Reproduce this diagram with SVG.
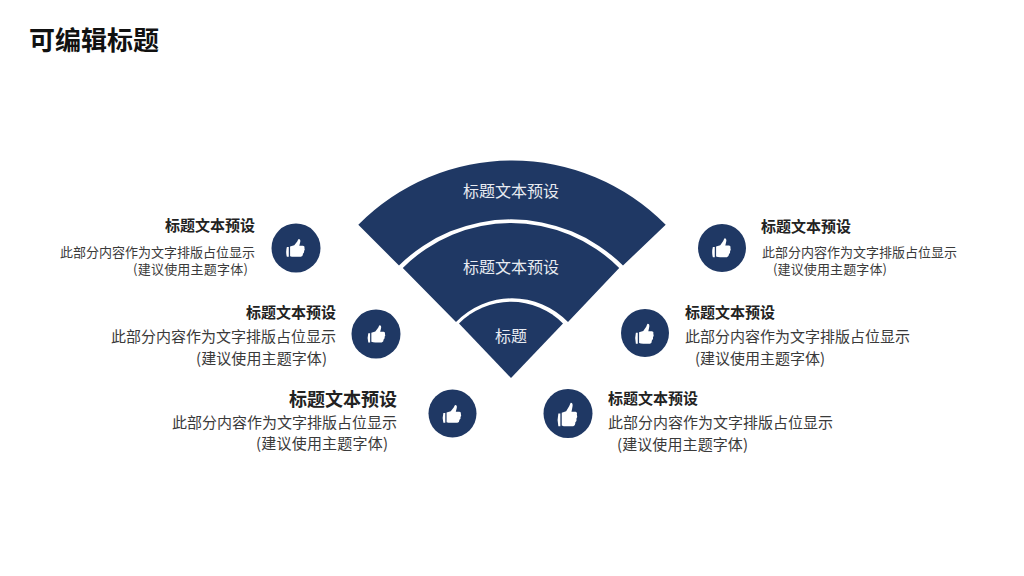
<svg xmlns="http://www.w3.org/2000/svg" width="1024" height="576" viewBox="0 0 1024 576">
<style>
text{font-family:"Noto Sans CJK SC","Noto Sans",sans-serif}
.fan{fill:#1f3864}
.c{fill:#1f3864}
.ft{fill:#e8ebf1;font-size:16px;text-anchor:middle}
.h{fill:#222;font-size:15px;font-weight:700}
.s{fill:#3a3a3a;font-size:15px}
.m{font-size:13px}
.e{text-anchor:end}
</style>
<defs>
<g id="thumb">
<path fill="#fff" d="M-10.500,-2.200 h2.200 v11.200 h-2.200 q-1.600,-5.600 0,-11.200z M-6.800,-2.800 L-2,-4.200 L1.400,-8.600 Q2.600,-11.400 3,-11.600 Q6,-11.600 4.600,-7 L3.800,-3.800 H8 Q10.400,-3.400 9.600,-1.200 Q10.600,1 9.200,2.200 Q9.800,4.400 8,5.400 Q8,8.400 5.600,9 H-2 Q-5,9 -6.800,8.200z"/>
</g>
</defs>
<text x="29" y="50" fill="#111" style="font-size:26px;font-weight:700">可编辑标题</text>
<g id="fan-outer"><path class="fan" d="M358.300,224.800 A216,216 0 0 1 665.700,224.800 L623,265.500 A159,159 0 0 0 399,265.500 Z"/><text class="ft" x="511" y="197">标题文本预设</text></g>
<g id="fan-middle"><path class="fan" d="M402.800,268 A152.500,152.500 0 0 1 619.200,268 L568,322 A78,78 0 0 0 456,322 Z"/><text class="ft" x="511" y="273">标题文本预设</text></g>
<g id="fan-inner"><path class="fan" d="M459,323.500 A73,73 0 0 1 563,323.500 L511,378 Z"/><text class="ft" x="511" y="342">标题</text></g>
<g id="item-left-top"><circle class="c" cx="296" cy="248" r="24.500"/><use href="#thumb" transform="translate(296,249) scale(.87)"/><text class="h e" x="255" y="231">标题文本预设</text><text class="s m e" x="255" y="257">此部分内容作为文字排版占位显示</text><text class="s m" x="133" y="274" textLength="115">(建议使用主题字体)</text></g>
<g id="item-left-middle"><circle class="c" cx="376" cy="334" r="24.500"/><use href="#thumb" transform="translate(377,335) scale(.83)"/><text class="h e" x="336" y="318">标题文本预设</text><text class="s e" x="336" y="342">此部分内容作为文字排版占位显示</text><text class="s" x="196" y="364" textLength="131">(建议使用主题字体)</text></g>
<g id="item-left-bottom"><circle class="c" cx="452.500" cy="413.500" r="24"/><use href="#thumb" transform="translate(452.500,415) scale(.87)"/><text class="h e" style="font-size:18px" x="397" y="406">标题文本预设</text><text class="s e" x="397" y="428">此部分内容作为文字排版占位显示</text><text class="s" x="256" y="449" textLength="132">(建议使用主题字体)</text></g>
<g id="item-right-bottom"><circle class="c" cx="568" cy="413.500" r="24.500"/><use href="#thumb" transform="translate(568,416) scale(.92,1.15)"/><text class="h" x="608" y="404">标题文本预设</text><text class="s" x="608" y="428">此部分内容作为文字排版占位显示</text><text class="s" x="617" y="450" textLength="131">(建议使用主题字体)</text></g>
<g id="item-right-middle"><circle class="c" cx="645" cy="333" r="24"/><use href="#thumb" transform="translate(645,335) scale(.87,.97)"/><text class="h" x="685" y="318">标题文本预设</text><text class="s" x="685" y="342">此部分内容作为文字排版占位显示</text><text class="s" x="695" y="364" textLength="130">(建议使用主题字体)</text></g>
<g id="item-right-top"><circle class="c" cx="722" cy="248" r="24"/><use href="#thumb" transform="translate(722,249) scale(.87,.92)"/><text class="h" x="761" y="232">标题文本预设</text><text class="s m" x="762" y="257">此部分内容作为文字排版占位显示</text><text class="s m" x="773" y="274" textLength="114">(建议使用主题字体)</text></g>
<g id="connectors"></g>
</svg>
